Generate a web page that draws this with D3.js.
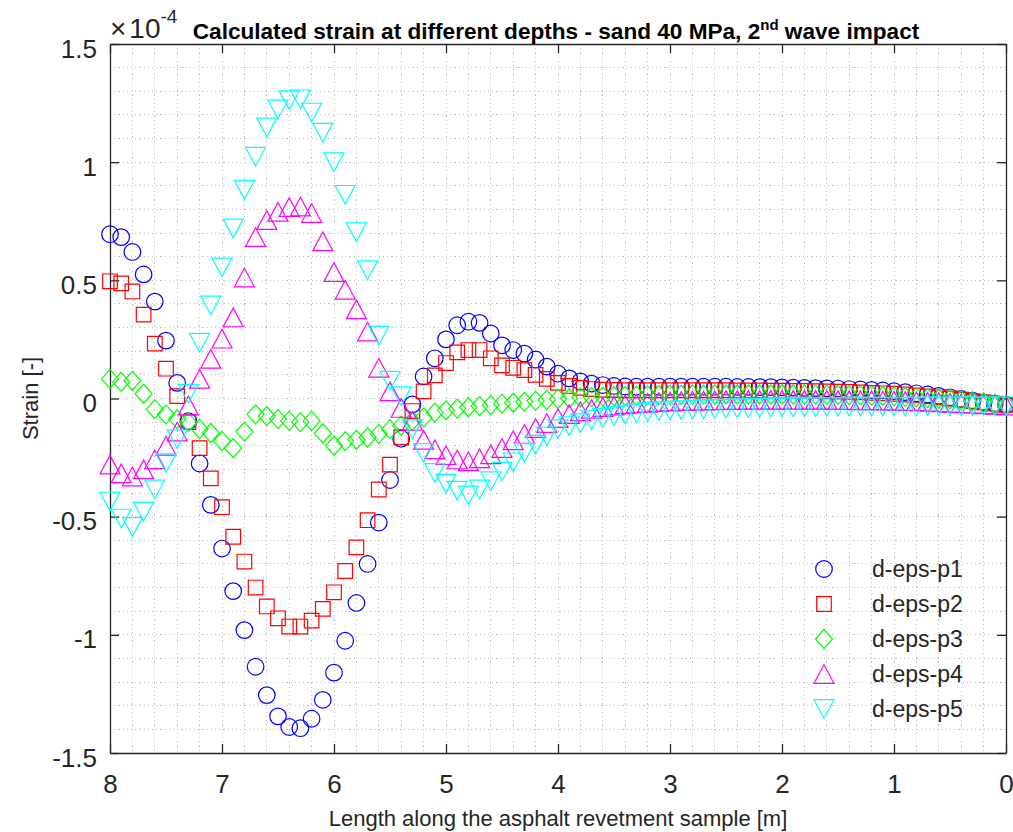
<!DOCTYPE html>
<html><head><meta charset="utf-8">
<script src="https://cdn.jsdelivr.net/npm/d3@7"></script>
<style>body{margin:0;background:#fff} svg{display:block}</style>
</head><body>
<svg id="chart" width="1013" height="832"></svg>
<script>
// ---------- data (strain ×10^-4) ----------
const xValues = [8.0,7.9,7.8,7.7,7.6,7.5,7.4,7.3,7.2,7.1,
  7.0,6.9,6.8,6.7,6.6,6.5,6.4,6.3,6.2,6.1,
  6.0,5.9,5.8,5.7,5.6,5.5,5.4,5.3,5.2,5.1,
  5.0,4.9,4.8,4.7,4.6,4.5,4.4,4.3,4.2,4.1,
  4.0,3.9,3.8,3.7,3.6,3.5,3.4,3.3,3.2,3.1,
  3.0,2.9,2.8,2.7,2.6,2.5,2.4,2.3,2.2,2.1,
  2.0,1.9,1.8,1.7,1.6,1.5,1.4,1.3,1.2,1.1,
  1.0,0.9,0.8,0.7,0.6,0.5,0.4,0.3,0.2,0.1,
  0.0];

const p1 = [0.695,0.683,0.62,0.525,0.41,0.245,0.066,-0.096,-0.275,-0.45,
  -0.635,-0.815,-0.98,-1.135,-1.255,-1.345,-1.39,-1.395,-1.355,-1.275,
  -1.16,-1.025,-0.865,-0.70,-0.525,-0.345,-0.17,-0.025,0.093,0.17,
  0.25,0.31,0.325,0.32,0.275,0.225,0.205,0.19,0.165,0.135,
  0.105,0.085,0.072,0.063,0.057,0.053,0.051,0.05,0.05,0.05,
  0.05,0.05,0.05,0.05,0.05,0.05,0.049,0.049,0.048,0.048,
  0.047,0.046,0.045,0.044,0.043,0.042,0.04,0.038,0.036,0.034,
  0.031,0.027,0.022,0.017,0.011,0.005,-0.002,-0.009,-0.016,-0.022,
  -0.027];

const p2 = [0.496,0.487,0.453,0.355,0.232,0.126,0.01,-0.1,-0.21,-0.338,
  -0.46,-0.585,-0.69,-0.80,-0.88,-0.93,-0.965,-0.965,-0.94,-0.89,
  -0.82,-0.73,-0.63,-0.515,-0.385,-0.28,-0.164,-0.053,0.03,0.098,
  0.15,0.195,0.205,0.205,0.17,0.14,0.13,0.12,0.10,0.083,
  0.066,0.053,0.045,0.04,0.037,0.036,0.035,0.035,0.035,0.035,
  0.035,0.035,0.035,0.035,0.035,0.035,0.034,0.034,0.034,0.033,
  0.033,0.032,0.032,0.031,0.03,0.029,0.028,0.026,0.024,0.022,
  0.02,0.017,0.013,0.009,0.005,0.0,-0.005,-0.011,-0.016,-0.022,
  -0.027];

const p3 = [0.083,0.07,0.075,0.02,-0.045,-0.067,-0.087,-0.1,-0.13,-0.146,
  -0.18,-0.21,-0.14,-0.067,-0.075,-0.087,-0.095,-0.1,-0.095,-0.147,
  -0.2,-0.18,-0.175,-0.165,-0.15,-0.13,-0.115,-0.095,-0.08,-0.06,
  -0.05,-0.043,-0.037,-0.032,-0.027,-0.022,-0.018,-0.014,-0.01,-0.006,
  -0.002,0.001,0.004,0.006,0.008,0.01,0.011,0.012,0.013,0.014,
  0.015,0.015,0.016,0.016,0.016,0.017,0.017,0.017,0.017,0.017,
  0.017,0.017,0.016,0.016,0.015,0.015,0.014,0.013,0.012,0.011,
  0.009,0.007,0.005,0.002,-0.001,-0.004,-0.008,-0.012,-0.017,-0.022,
  -0.027];

const p4 = [-0.28,-0.317,-0.33,-0.3,-0.257,-0.2,-0.14,-0.03,0.083,0.168,
  0.253,0.343,0.512,0.683,0.755,0.79,0.81,0.812,0.785,0.665,
  0.535,0.46,0.377,0.283,0.13,0.03,-0.04,-0.095,-0.175,-0.215,
  -0.24,-0.258,-0.266,-0.253,-0.236,-0.21,-0.177,-0.15,-0.125,-0.104,
  -0.083,-0.066,-0.054,-0.044,-0.036,-0.03,-0.025,-0.021,-0.018,-0.015,
  -0.013,-0.011,-0.01,-0.009,-0.008,-0.007,-0.007,-0.006,-0.006,-0.006,
  -0.006,-0.006,-0.006,-0.006,-0.006,-0.007,-0.007,-0.008,-0.008,-0.009,
  -0.01,-0.011,-0.012,-0.014,-0.016,-0.018,-0.02,-0.022,-0.025,-0.027,
  -0.03];

const p5 = [-0.436,-0.508,-0.543,-0.479,-0.385,-0.274,-0.172,0.02,0.236,0.394,
  0.555,0.72,0.883,1.023,1.147,1.223,1.262,1.266,1.21,1.125,
  1.0,0.862,0.704,0.543,0.266,0.075,0.01,-0.13,-0.23,-0.315,
  -0.36,-0.39,-0.41,-0.385,-0.35,-0.31,-0.27,-0.23,-0.195,-0.16,
  -0.13,-0.117,-0.104,-0.092,-0.082,-0.074,-0.067,-0.062,-0.058,-0.054,
  -0.051,-0.049,-0.047,-0.045,-0.044,-0.043,-0.042,-0.041,-0.04,-0.039,
  -0.038,-0.038,-0.037,-0.037,-0.036,-0.036,-0.035,-0.035,-0.035,-0.034,
  -0.034,-0.034,-0.034,-0.033,-0.033,-0.033,-0.033,-0.033,-0.033,-0.033,
  -0.033];

const seriesNames = ["d-eps-p1","d-eps-p2","d-eps-p3","d-eps-p4","d-eps-p5"];
const seriesValues = [p1, p2, p3, p4, p5];
const xTicks = [0,1,2,3,4,5,6,7,8];
const xTickLabels = ["0","1","2","3","4","5","6","7","8"];
const yTicks = [-1.5,-1,-0.5,0,0.5,1,1.5];
const yTickLabels = ["-1.5","-1","-0.5","0","0.5","1","1.5"];

// ---------- styles ----------
const colors = ["#0000ff","#ff0000","#00ff00","#ff00ff","#00ffff"];
const markerTypes = ["o","s","d","^","v"];
const FONT = "'Liberation Sans', Arial, Helvetica, sans-serif";
const AX = "#262626";

function markerPath(t){
  switch(t){
    case "o": return "M8.3,0A8.3,8.3 0 1,1 -8.3,0A8.3,8.3 0 1,1 8.3,0Z";
    case "s": return "M-7.3,-7.3H7.3V7.3H-7.3Z";
    case "d": return "M0,-9.5L8.5,0L0,9.5L-8.5,0Z";
    case "^": return "M0,-9.3L10,9.3L-10,9.3Z";
    case "v": return "M0,9.3L10,-9.3L-10,-9.3Z";
  }
}

const L = 110, R = 1006, T = 44, B = 753;
const svg = d3.select("#chart");
const x = d3.scaleLinear().domain([8,0]).range([L,R]);
const y = d3.scaleLinear().domain([-1.5,1.5]).range([B,T]);

// minor (dotted) grid
const grid = svg.append("g").attr("stroke","#c4c4c4").attr("stroke-width",1)
  .attr("stroke-dasharray","1.2,3").attr("shape-rendering","crispEdges");
grid.selectAll("line.gx").data(d3.range(1,40).map(i=>i*0.2)).join("line")
  .attr("x1",d=>x(d)).attr("x2",d=>x(d)).attr("y1",T).attr("y2",B);
grid.selectAll("line.gy").data(d3.range(-14,15).map(i=>i*0.1)).join("line")
  .attr("y1",d=>y(d)).attr("y2",d=>y(d)).attr("x1",L).attr("x2",R);

// axes
function styleAxis(g){
  g.select(".domain").attr("stroke",AX).attr("stroke-width",1.3);
  g.selectAll(".tick line").attr("stroke",AX).attr("stroke-width",1.3);
  g.selectAll(".tick text").attr("fill",AX).attr("font-family",FONT).attr("font-size",26);
}
const gxB = svg.append("g").attr("transform",`translate(0,${B})`)
  .call(d3.axisBottom(x).tickValues(xTicks).tickSize(-9).tickSizeOuter(0).tickPadding(22)
    .tickFormat(d=>xTickLabels[xTicks.indexOf(d)]));
styleAxis(gxB);
const gxT = svg.append("g").attr("transform",`translate(0,${T})`)
  .call(d3.axisTop(x).tickValues(xTicks).tickSize(-9).tickSizeOuter(0).tickFormat(""));
styleAxis(gxT);
const gyL = svg.append("g").attr("transform",`translate(${L},0)`)
  .call(d3.axisLeft(y).tickValues(yTicks).tickSize(-9).tickSizeOuter(0).tickPadding(13)
    .tickFormat(d=>yTickLabels[yTicks.indexOf(d)]));
styleAxis(gyL);
gyL.selectAll(".tick text").attr("dy","0.5em");
const gyR = svg.append("g").attr("transform",`translate(${R},0)`)
  .call(d3.axisRight(y).tickValues(yTicks).tickSize(-9).tickSizeOuter(0).tickFormat(""));
styleAxis(gyR);

// series markers
seriesValues.forEach((vals,si)=>{
  svg.append("g").selectAll("path").data(vals).join("path")
    .attr("d", markerPath(markerTypes[si]))
    .attr("transform",(v,i)=>`translate(${x(xValues[i])},${y(v)})`)
    .attr("fill","none").attr("stroke",colors[si]).attr("stroke-width",1.2);
});

// labels
svg.append("text").attr("x",(L+R)/2).attr("y",826).attr("text-anchor","middle")
  .attr("font-family",FONT).attr("font-size",22).attr("fill",AX)
  .text("Length along the asphalt revetment sample [m]");
svg.append("text").attr("transform",`translate(38,${(T+B)/2}) rotate(-90)`)
  .attr("text-anchor","middle").attr("font-family",FONT).attr("font-size",22).attr("fill",AX)
  .text("Strain [-]");

// exponent
const ex = svg.append("text").attr("x",110).attr("y",38).attr("font-family",FONT)
  .attr("font-size",28).attr("fill",AX);
ex.append("tspan").text("×");
ex.append("tspan").attr("dx",3).text("10");
ex.append("tspan").attr("font-size",19).attr("dy",-15).text("-4");

// title
const tt = svg.append("text").attr("x",(L+R)/2 - 2).attr("y",39).attr("text-anchor","middle")
  .attr("font-family",FONT).attr("font-size",22.6).attr("font-weight","bold").attr("fill","#000");
tt.append("tspan").text("Calculated strain at different depths - sand 40 MPa, 2");
tt.append("tspan").attr("font-size",15).attr("dy",-9).text("nd");
tt.append("tspan").attr("dy",9).text(" wave impact");

// legend
const legY = [569,604,639,674,709];
seriesNames.forEach((n,i)=>{
  svg.append("path").attr("d",markerPath(markerTypes[i]))
    .attr("transform",`translate(824,${legY[i]})`)
    .attr("fill","none").attr("stroke",colors[i]).attr("stroke-width",1.2);
  svg.append("text").attr("x",872).attr("y",legY[i]).attr("dy","0.36em")
    .attr("font-family",FONT).attr("font-size",23).attr("fill",AX).text(n);
});
</script>
</body></html>
